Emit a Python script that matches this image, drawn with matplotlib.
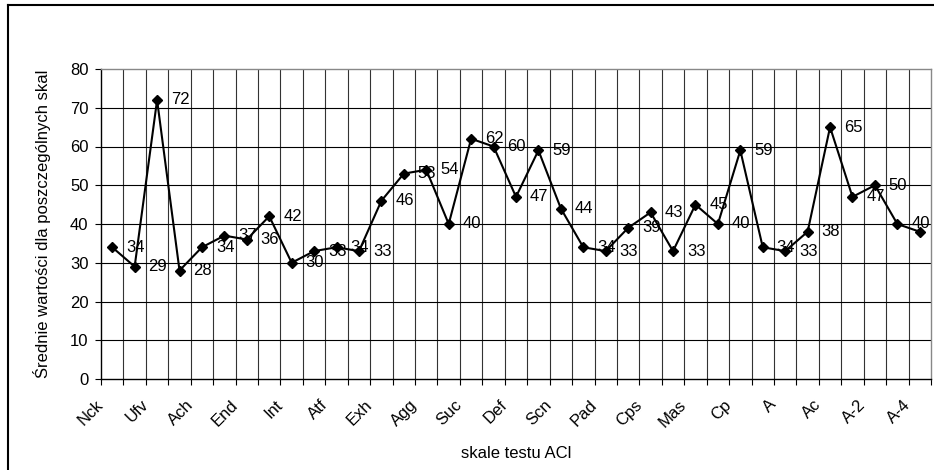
"""
Średnie wartości skal testu ACL — wykres liniowy z etykietami danych
"""

import numpy as np
import matplotlib
matplotlib.use('Agg')
import matplotlib.pyplot as plt
from matplotlib.lines import Line2D
from matplotlib.transforms import ScaledTranslation

plt.rcParams['font.family'] = ['Liberation Sans', 'DejaVu Sans']

# 定数
W_PX, H_PX, DPI = 934, 470, 100
FONT_SIZE = 12

# 全37スケール（軸ラベルは1つおきに表示）
SCALE_LABELS: list[str] = [
    'Nck', 'Ufv', 'Ach', 'End', 'Int', 'Atf', 'Exh', 'Agg', 'Suc', 'Def',
    'Scn', 'Pad', 'Cps', 'Mas', 'Cp', 'A', 'Ac', 'A-2', 'A-4',
]
MEAN_VALUES: list[int] = [
    34, 29, 72, 28, 34, 37, 36, 42, 30, 33, 34, 33, 46, 53, 54, 40, 62, 60, 47,
    59, 44, 34, 33, 39, 43, 33, 45, 40, 59, 34, 33, 38, 65, 47, 50, 40, 38,
]
Y_TICKS: list[int] = [0, 10, 20, 30, 40, 50, 60, 70, 80]


def px(x: float, y: float) -> tuple[float, float]:
    """ピクセル座標を図座標に変換する"""
    return x / W_PX, 1 - y / H_PX


def main() -> None:
    fig = plt.figure(figsize=(W_PX / DPI, H_PX / DPI), dpi=DPI)

    # 外枠（右・下は切れている）
    fig.add_artist(Line2D([8 / W_PX, 1], [px(0, 5)[1]] * 2,
                          transform=fig.transFigure, color='black', lw=1.5))
    fig.add_artist(Line2D([8 / W_PX] * 2, [0, px(0, 5)[1]],
                          transform=fig.transFigure, color='black', lw=1.5))

    left, top = px(101, 69)
    right, bottom = px(931, 379)
    ax = fig.add_axes([left, bottom, right - left, top - bottom])

    n = len(MEAN_VALUES)
    x = np.arange(n)

    ax.set_xlim(-0.5, n - 0.5)
    ax.set_ylim(0, 80)

    # グリッド
    boundaries = np.arange(n + 1) - 0.5
    for b in boundaries[1:-1]:
        ax.axvline(b, color='#333333', lw=0.8, zorder=1)
    for yv in Y_TICKS[1:-1]:
        ax.axhline(yv, color='black', lw=0.8, zorder=1)

    ax.plot(x, MEAN_VALUES, color='black', lw=1.5, marker='D',
            markersize=5.5, zorder=3, clip_on=False)

    for xi, v in zip(x, MEAN_VALUES):
        ax.annotate(f'{v}', (xi, v), xytext=(10, 0), textcoords='offset points',
                    ha='left', va='center', fontsize=FONT_SIZE,
                    annotation_clip=False, zorder=4)

    # 軸
    ax.set_yticks(Y_TICKS)
    ax.tick_params(axis='y', length=4, width=0.8, pad=5, labelsize=FONT_SIZE)
    ax.set_xticks(boundaries, minor=True)
    ax.tick_params(axis='x', which='minor', length=4, width=0.8)
    ax.set_xticks(x[::2])
    ax.set_xticklabels(SCALE_LABELS, rotation=45, ha='right',
                       fontsize=FONT_SIZE)
    ax.tick_params(axis='x', which='major', length=0, pad=13)
    shift = ScaledTranslation(-6 / DPI, 0, fig.dpi_scale_trans)
    for lab in ax.get_xticklabels():
        lab.set_transform(lab.get_transform() + shift)

    for side in ('top', 'right'):
        ax.spines[side].set_color('#888888')
        ax.spines[side].set_linewidth(1.0)
    for side in ('left', 'bottom'):
        ax.spines[side].set_color('black')
        ax.spines[side].set_linewidth(1.0)

    fig.text(*px(42, 224), 'Średnie wartości dla poszczególnych skal',
             rotation=90, ha='center', va='center', fontsize=FONT_SIZE)
    fig.text(*px(516, 453), 'skale testu ACl', ha='center', va='center',
             fontsize=FONT_SIZE)

    fig.savefig('out.png', dpi=DPI)
    plt.close(fig)


if __name__ == "__main__":
    main()
